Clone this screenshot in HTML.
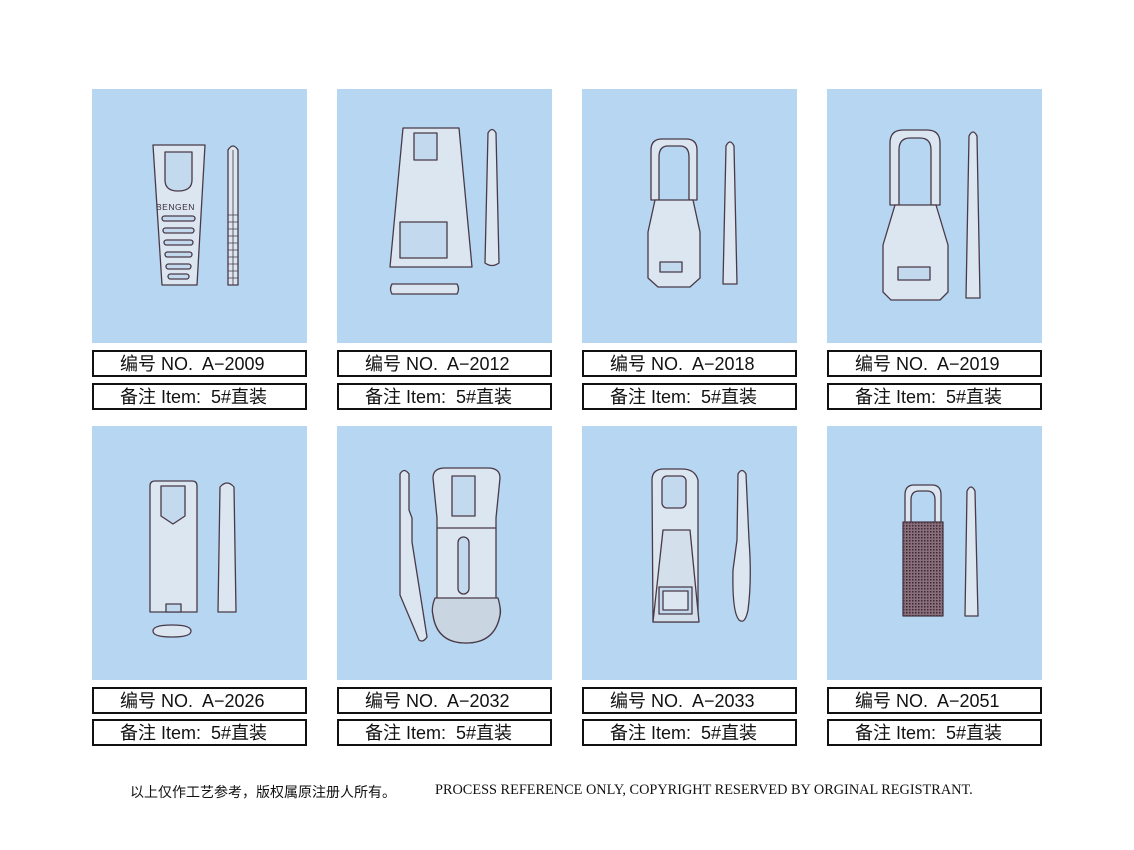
<!DOCTYPE html>
<html><head><meta charset="utf-8"><style>
html,body{margin:0;padding:0;background:#fff;width:1134px;height:850px;overflow:hidden;position:relative}
.p{position:absolute;width:215px;height:254px;background:#b6d6f1}
.l{position:absolute;width:211px;height:23px;border:2px solid #111;font:18px "Liberation Sans","Noto Sans CJK SC",sans-serif;color:#111;line-height:24px;box-sizing:content-box}
.l span{position:absolute;left:26px}
svg{position:absolute;left:0;top:0}
.f{position:absolute;top:782px;color:#111;white-space:nowrap}
</style></head><body>
<div class="p" style="left:92px;top:89px"></div>
<div class="p" style="left:337px;top:89px"></div>
<div class="p" style="left:582px;top:89px"></div>
<div class="p" style="left:827px;top:89px"></div>
<div class="p" style="left:92px;top:426px"></div>
<div class="p" style="left:337px;top:426px"></div>
<div class="p" style="left:582px;top:426px"></div>
<div class="p" style="left:827px;top:426px"></div>

<div class="l" style="left:92px;top:350px"><span>编号 NO.&nbsp; A−2009</span></div>
<div class="l" style="left:92px;top:383px"><span>备注 Item:&nbsp; 5#直装</span></div>
<div class="l" style="left:337px;top:350px"><span>编号 NO.&nbsp; A−2012</span></div>
<div class="l" style="left:337px;top:383px"><span>备注 Item:&nbsp; 5#直装</span></div>
<div class="l" style="left:582px;top:350px"><span>编号 NO.&nbsp; A−2018</span></div>
<div class="l" style="left:582px;top:383px"><span>备注 Item:&nbsp; 5#直装</span></div>
<div class="l" style="left:827px;top:350px"><span>编号 NO.&nbsp; A−2019</span></div>
<div class="l" style="left:827px;top:383px"><span>备注 Item:&nbsp; 5#直装</span></div>
<div class="l" style="left:92px;top:687px"><span>编号 NO.&nbsp; A−2026</span></div>
<div class="l" style="left:92px;top:719px"><span>备注 Item:&nbsp; 5#直装</span></div>
<div class="l" style="left:337px;top:687px"><span>编号 NO.&nbsp; A−2032</span></div>
<div class="l" style="left:337px;top:719px"><span>备注 Item:&nbsp; 5#直装</span></div>
<div class="l" style="left:582px;top:687px"><span>编号 NO.&nbsp; A−2033</span></div>
<div class="l" style="left:582px;top:719px"><span>备注 Item:&nbsp; 5#直装</span></div>
<div class="l" style="left:827px;top:687px"><span>编号 NO.&nbsp; A−2051</span></div>
<div class="l" style="left:827px;top:719px"><span>备注 Item:&nbsp; 5#直装</span></div>

<svg width="1134" height="850" viewBox="0 0 1134 850">
<defs>
<pattern id="m" width="3" height="3" patternUnits="userSpaceOnUse"><rect width="3" height="3" fill="#8a6f7a"/><rect width="1.5" height="1.5" fill="#3a2a35"/></pattern>
</defs>
<g fill="#dbe6f1" stroke="#4a3a48" stroke-width="1.3" stroke-linejoin="round">
<path d="M153 145 H205 L197 285 H162 Z"/>
<path d="M165 152 H192 V180 Q192 191 178 191 Q165 191 165 180 Z" fill="#c3d9ee"/>
<g fill="#c3d9ee"><rect x="162" y="216" width="33" height="5" rx="2.5"/><rect x="163" y="228" width="31" height="5" rx="2.5"/><rect x="164" y="240" width="29" height="5" rx="2.5"/><rect x="165" y="252" width="27" height="5" rx="2.5"/><rect x="166" y="264" width="25" height="5" rx="2.5"/><rect x="168" y="274" width="21" height="5" rx="2.5"/></g>
<path d="M228 150 Q233 142 238 150 V285 H228 Z"/>
<path d="M228 215 H238 M228 222 H238 M228 229 H238 M228 236 H238 M228 243 H238 M228 250 H238 M228 257 H238 M228 264 H238 M228 271 H238 M228 278 H238 M233 150 V285" fill="none" stroke-width="0.8"/>
<path d="M403 128 H459 L472 267 H390 Z"/>
<rect x="414" y="133" width="23" height="27" fill="#c3d9ee"/>
<rect x="400" y="222" width="47" height="36" fill="#c3d9ee"/>
<path d="M488 133 Q492 126 496 133 L499 263 Q492 268 485 263 Z"/>
<path d="M392 284 H457 Q460 289 457 294 H392 Q389 289 392 284 Z"/>
<path d="M651 200 V150 Q651 139 662 139 H686 Q697 139 697 150 V200 H689 V157 Q689 146 680 146 H668 Q659 146 659 157 V200 Z"/>
<path d="M655 200 H693 L700 232 V278 L690 287 H658 L648 278 V232 Z"/>
<rect x="660" y="262" width="22" height="10" fill="#c3d9ee"/>
<path d="M726 146 Q730 138 734 146 L737 284 H723 Z"/>
<path d="M890 205 V143 Q890 130 903 130 H927 Q940 130 940 143 V205 H931 V150 Q931 138 920 138 H910 Q899 138 899 150 V205 Z"/>
<path d="M895 205 H936 L948 245 V292 L940 300 H891 L883 292 V245 Z"/>
<rect x="898" y="267" width="32" height="13" fill="#c3d9ee"/>
<path d="M969 136 Q973 128 977 136 L980 298 H966 Z"/>
<path d="M150 486 Q150 481 155 481 H192 Q197 481 197 486 V612 H150 Z"/>
<path d="M161 486 H185 V516 L173 524 L161 516 Z" fill="#c3d9ee"/>
<rect x="166" y="604" width="15" height="8" fill="#c3d9ee"/>
<path d="M153 631 Q153 625 172 625 Q191 625 191 631 Q191 637 172 637 Q153 637 153 631 Z"/>
<path d="M220 487 Q227 479 234 487 L236 612 H218 Z"/>
<path d="M400 474 Q404 467 409 474 V510 L412 518 V542 L427 637 Q423 643 419 640 L400 595 Z"/>
<path d="M433 478 Q433 468 445 468 H488 Q500 468 500 478 L496 518 V598 Q502 608 500 615 Q495 643 466 643 Q437 643 433 615 Q431 608 437 598 V518 Z"/>
<path d="M435 598 H498 Q501 608 500 615 Q495 643 466 643 Q437 643 433 615 Q431 608 435 598 Z" fill="#c9d6e2"/>
<path d="M437 528 H496" fill="none"/>
<rect x="452" y="476" width="23" height="40" fill="#c3d9ee"/>
<rect x="458" y="537" width="11" height="57" rx="5.5" fill="#c3d9ee"/>
<path d="M652 480 Q652 469 664 469 H682 Q695 469 698 480 V622 H653 Z"/>
<rect x="662" y="476" width="24" height="32" rx="5" fill="#c3d9ee"/>
<path d="M663 530 H690 L699 622 H653 Z" fill="#d3dfeb"/>
<rect x="659" y="587" width="33" height="27" fill="#c3d9ee"/>
<rect x="663" y="591" width="25" height="19" fill="#dbe6f1"/>
<path d="M738 474 Q742 467 746 474 L749 540 Q752 580 748 610 Q745 625 739 620 Q732 612 733 570 L737 540 Z"/>
<path d="M905 525 V495 Q905 485 914 485 H932 Q941 485 941 495 V525 H935 V500 Q935 491 927 491 H919 Q911 491 911 500 V525 Z"/>
<rect x="903" y="522" width="40" height="94" fill="url(#m)"/>
<path d="M967 491 Q971 483 975 491 L978 616 H965 Z"/>
</g>
<text x="156" y="210" font-family="Liberation Sans,sans-serif" font-size="8.5" fill="#3a2a38" letter-spacing="0.5">BENGEN</text>
</svg>
<div class="f" style="left:130px;font-family:'Noto Sans CJK SC',sans-serif;font-size:14px;top:782px">以上仅作工艺参考，版权属原注册人所有。</div>
<div class="f" style="left:435px;font-family:'Liberation Serif',serif;font-size:14.3px">PROCESS REFERENCE ONLY, COPYRIGHT RESERVED BY ORGINAL REGISTRANT.</div>
</body></html>
